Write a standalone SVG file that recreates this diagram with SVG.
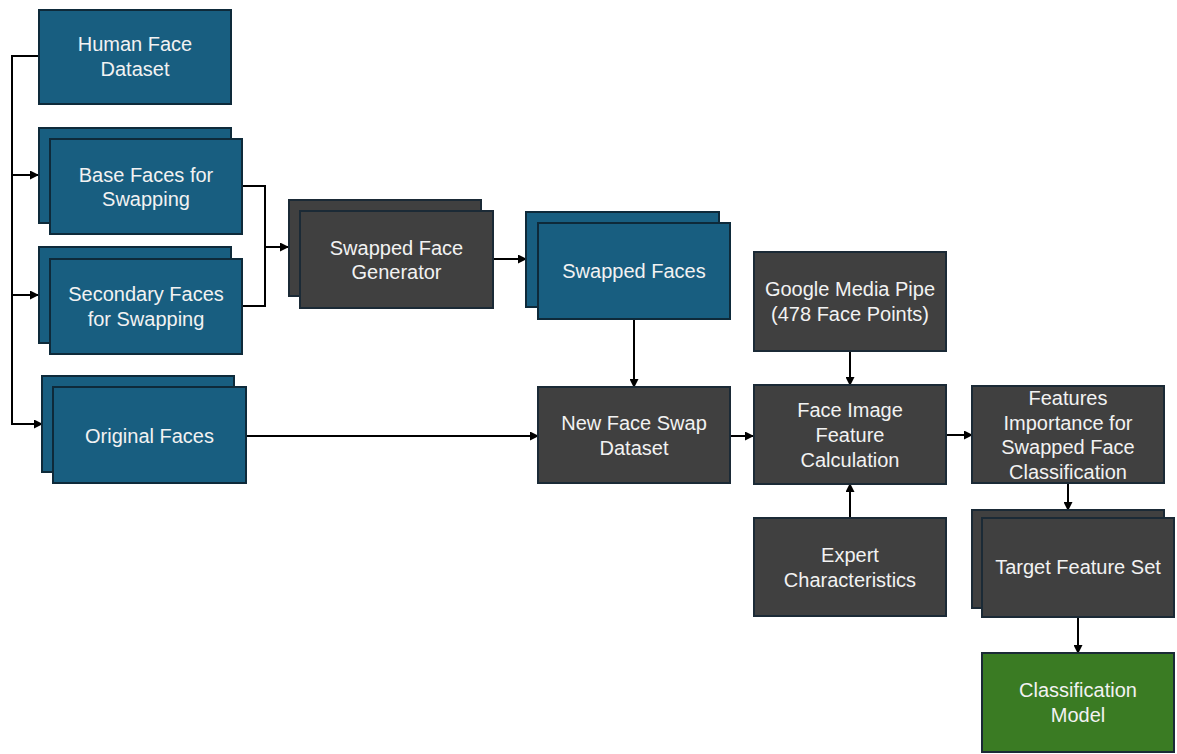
<svg xmlns="http://www.w3.org/2000/svg" width="1177" height="754" viewBox="0 0 1177 754">
<defs>
<style>
.blue{fill:#185e80;stroke:#0e2a3a;stroke-width:2}
.gray{fill:#404040;stroke:#1b2a36;stroke-width:2}
.green{fill:#3a7b23;stroke:#1b2a36;stroke-width:2}
text{font-family:"Liberation Sans",Arial,sans-serif;font-size:20px;fill:#f2f2f2;text-anchor:middle}
.c{fill:none;stroke:#000;stroke-width:2}
.a{marker-end:url(#ah)}
</style>
<marker id="ah" markerUnits="userSpaceOnUse" markerWidth="9" markerHeight="9" refX="8" refY="4.5" orient="auto">
<path d="M0,0 L9,4.5 L0,9 z" fill="#000"/>
</marker>
</defs>
<g id="connectors">
<path class="c a" d="M38,56 H12 V424 H42"/>
<path class="c a" d="M12,175 H38"/>
<path class="c a" d="M12,295 H38"/>
<path class="c" d="M242,186 H265 V306 H242"/>
<path class="c a" d="M265,247 H288"/>
<path class="c a" d="M493,259 H526"/>
<path class="c a" d="M634,319 V387"/>
<path class="c a" d="M246,436 H538"/>
<path class="c a" d="M730,436 H753"/>
<path class="c a" d="M850,351 V385"/>
<path class="c a" d="M850,518 V484"/>
<path class="c a" d="M946,435 H972"/>
<path class="c a" d="M1068,483 V510"/>
<path class="c a" d="M1078,617 V653"/>
</g>
<g id="human-face-dataset">
<rect class="blue" x="39" y="10" width="192" height="94"/>
<text x="135" y="51">Human Face</text>
<text x="135" y="76">Dataset</text>
</g>
<g id="base-faces">
<rect class="blue" x="39" y="128" width="192" height="95"/>
<rect class="blue" x="50" y="139" width="192" height="95"/>
<text x="146" y="182">Base Faces for</text>
<text x="146" y="206">Swapping</text>
</g>
<g id="secondary-faces">
<rect class="blue" x="39" y="247" width="192" height="96"/>
<rect class="blue" x="50" y="259" width="192" height="95"/>
<text x="146" y="301">Secondary Faces</text>
<text x="146" y="326">for Swapping</text>
</g>
<g id="original-faces">
<rect class="blue" x="42" y="376" width="192" height="96"/>
<rect class="blue" x="53" y="387" width="193" height="96"/>
<text x="149.5" y="443">Original Faces</text>
</g>
<g id="swapped-face-generator">
<rect class="gray" x="289" y="200" width="192" height="96"/>
<rect class="gray" x="300" y="211" width="193" height="97"/>
<text x="396.5" y="255">Swapped Face</text>
<text x="396.5" y="279">Generator</text>
</g>
<g id="swapped-faces">
<rect class="blue" x="526" y="212" width="193" height="95"/>
<rect class="blue" x="538" y="223" width="192" height="96"/>
<text x="634" y="278">Swapped Faces</text>
</g>
<g id="new-face-swap-dataset">
<rect class="gray" x="538" y="387" width="192" height="96"/>
<text x="634" y="430">New Face Swap</text>
<text x="634" y="455">Dataset</text>
</g>
<g id="google-media-pipe">
<rect class="gray" x="754" y="252" width="192" height="99"/>
<text x="850" y="296">Google Media Pipe</text>
<text x="850" y="321">(478 Face Points)</text>
</g>
<g id="face-image-feature-calculation">
<rect class="gray" x="754" y="385" width="192" height="99"/>
<text x="850" y="417">Face Image</text>
<text x="850" y="442">Feature</text>
<text x="850" y="467">Calculation</text>
</g>
<g id="expert-characteristics">
<rect class="gray" x="754" y="518" width="192" height="98"/>
<text x="850" y="562">Expert</text>
<text x="850" y="587">Characteristics</text>
</g>
<g id="features-importance">
<rect class="gray" x="972" y="386" width="192" height="97"/>
<text x="1068" y="405">Features</text>
<text x="1068" y="429.5">Importance for</text>
<text x="1068" y="454">Swapped Face</text>
<text x="1068" y="479">Classification</text>
</g>
<g id="target-feature-set">
<rect class="gray" x="972" y="510" width="192" height="98"/>
<rect class="gray" x="982" y="518" width="192" height="99"/>
<text x="1078" y="574">Target Feature Set</text>
</g>
<g id="classification-model">
<rect class="green" x="982" y="653" width="192" height="99"/>
<text x="1078" y="697">Classification</text>
<text x="1078" y="722">Model</text>
</g>
</svg>
